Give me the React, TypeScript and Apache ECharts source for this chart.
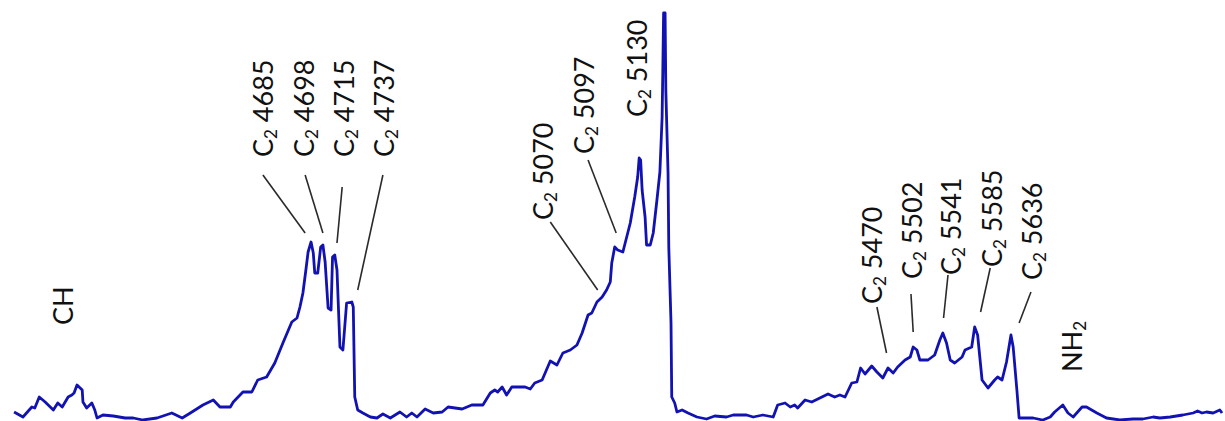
import React, { useEffect, useRef } from "react";
import * as echarts from "echarts";

// Spectrum: wavelength (Å) and relative intensity
const wavelengths = [
  4288, 4300, 4312, 4316, 4322, 4330, 4341, 4347, 4353, 4361, 4366, 4369, 4373, 4380, 4381, 4386, 4393, 4397, 4400, 4408,
  4422, 4438, 4449, 4462, 4481, 4501, 4515, 4526, 4543, 4557, 4566, 4580, 4584, 4597, 4609, 4617, 4629, 4640, 4651, 4663,
  4670, 4674, 4678, 4682, 4685, 4689, 4692, 4694, 4698, 4702, 4705, 4708, 4712, 4716, 4718, 4721, 4724, 4728, 4732, 4737,
  4744, 4746, 4748, 4752, 4759, 4769, 4778,
  4786, 4796, 4809, 4818, 4825, 4832, 4843, 4854, 4866, 4874, 4893, 4906, 4921, 4931, 4937, 4941, 4947, 4953, 4960, 4978,
  4985, 4991, 5001, 5012, 5021, 5029, 5039, 5048, 5055, 5063, 5068, 5075, 5082, 5088, 5093, 5095, 5099, 5103, 5110, 5120,
  5126, 5130, 5132, 5134, 5136, 5140, 5142, 5147, 5151, 5156, 5160, 5163, 5164, 5165, 5167, 5168, 5171, 5172, 5175, 5176,
  5180, 5183, 5190, 5198, 5210,
  5223, 5234, 5250, 5259, 5277, 5286, 5299, 5313, 5319, 5329, 5336, 5342, 5346, 5356, 5365, 5376, 5387, 5396, 5403, 5410,
  5419, 5426, 5431, 5437, 5446, 5453, 5461, 5468, 5475, 5481, 5491, 5498, 5502, 5507, 5511, 5522, 5531, 5538, 5542, 5547,
  5552, 5558, 5568, 5572, 5581, 5585, 5589, 5595, 5603, 5612, 5616, 5622, 5628, 5634, 5637, 5642, 5645, 5649,
  5664, 5677, 5687, 5693, 5704, 5711, 5718, 5730, 5736, 5750, 5763, 5781, 5799, 5812, 5826, 5835, 5849, 5866, 5880, 5886,
  5892, 5898, 5907, 5916, 5919,
];

const intensities = [
  9, 4, 14, 13, 24, 19, 11, 18, 14, 24, 26, 28, 36, 31, 19, 13, 18, 11, 3, 6,
  5, 3, 3, 1, 3, 8, 3, 8, 16, 21, 14, 14, 19, 29, 29, 41, 44, 58, 78, 99,
  103, 114, 128, 151, 169, 179, 168, 148, 148, 174, 176, 159, 113, 111, 164, 166, 151, 74, 71, 118,
  119, 114, 24, 11, 8, 4, 3,
  7, 3, 9, 4, 8, 4, 12, 8, 9, 14, 12, 16, 16, 28, 31, 29, 34, 26, 34, 34,
  32, 38, 41, 60, 56, 68, 71, 76, 88, 106, 108, 119, 124, 131, 139, 158, 174, 171, 169, 198,
  224, 244, 263, 261, 231, 204, 176, 176, 188, 221, 249, 304, 354, 408, 408, 331, 248, 174, 98, 24,
  18, 9, 11, 8, 4,
  2, 5, 4, 6, 6, 4, 6, 4, 16, 18, 14, 16, 13, 21, 19, 23, 27, 24, 26, 24,
  38, 39, 53, 47, 55, 49, 43, 53, 48, 54, 61, 64, 74, 71, 61, 61, 66, 81, 88, 78,
  61, 58, 64, 71, 74, 94, 86, 41, 33, 41, 44, 41, 59, 86, 74, 31, 3, 3,
  3, 1, 4, 9, 16, 8, 4, 14, 14, 8, 3, 1, 2, 2, 4, 3, 4, 6, 8, 10,
  8, 9, 8, 11, 8,
];

// Annotations
const annoSpecies = ["C", "C", "C", "C", "C", "C", "C", "C", "C", "C", "C", "C", "CH", "NH"];
const annoSub = ["2", "2", "2", "2", "2", "2", "2", "2", "2", "2", "2", "2", "", "2"];
const annoNumbers = ["4685", "4698", "4715", "4737", "5070", "5097", "5130", "5470", "5502", "5541", "5585", "5636", "", ""];
// label anchor in data space (wavelength, intensity) – bottom of rotated label
const annoTextAt: [number, number][] = [
  [4624, 264], [4679, 264], [4733, 264], [4787, 264], [5002, 201], [5057, 267], [5129, 304],
  [5446, 117], [5500, 142], [5552, 146], [5608, 154], [5662, 141], [4353, 96], [5716, 49],
];
// leader lines in data space: [λ1, I1, λ2, I2] or null
const annoLines: (number[] | null)[] = [
  [4624, 246, 4681, 188],
  [4681, 246, 4705, 188],
  [4731, 234, 4724, 178],
  [4786, 246, 4752, 131],
  [5012, 199, 5076, 131],
  [5063, 261, 5101, 188],
  null,
  [5453, 114, 5466, 68],
  [5499, 127, 5502, 89],
  [5549, 146, 5543, 103],
  [5606, 153, 5593, 109],
  [5661, 129, 5645, 98],
  null,
  null,
];

const X_MIN = 4269;
const X_MAX = 5923;
const Y_MAX = 421;

const FONT = "Lato, 'Open Sans', sans-serif";
const MAIN_SIZE = 27;
const SUB_SIZE = 17;
const SUB_DROP = 8;

let measureCtx: CanvasRenderingContext2D | null = null;
function textWidth(s: string, size: number): number {
  if (!measureCtx) measureCtx = document.createElement("canvas").getContext("2d");
  if (!measureCtx) return s.length * size * 0.55;
  measureCtx.font = size + "px " + FONT;
  return measureCtx.measureText(s).width;
}

export default function App() {
  const ref = useRef<HTMLDivElement>(null);

  useEffect(() => {
    if (!ref.current) return;
    const chart = echarts.init(ref.current, undefined, { renderer: "svg" });

    const spectrum = wavelengths.map((w, i) => [w, intensities[i]]);
    const annoData = annoTextAt.map((p) => [p[0], p[1]]);
    const mainStyle = { fontSize: MAIN_SIZE, fontFamily: FONT, fill: "#111111", align: "left", verticalAlign: "middle" };
    const subStyle = { fontSize: SUB_SIZE, fontFamily: FONT, fill: "#111111", align: "left", verticalAlign: "middle" };

    chart.setOption({
      animation: false,
      backgroundColor: "#ffffff",
      grid: { left: 0, right: 0, top: 0, bottom: 0 },
      xAxis: { type: "value", min: X_MIN, max: X_MAX, show: false },
      yAxis: { type: "value", min: 0, max: Y_MAX, show: false },
      series: [
        {
          type: "line",
          data: spectrum,
          showSymbol: false,
          symbol: "none",
          clip: false,
          lineStyle: { color: "#1212b2", width: 2.8, join: "round" },
          silent: true,
        },
        {
          type: "custom",
          data: annoData,
          clip: false,
          silent: true,
          encode: { x: 0, y: 1 },
          renderItem: (params: any, api: any) => {
            const i = params.dataIndex;
            const t = api.coord([annoTextAt[i][0], annoTextAt[i][1]]);
            const pieces: any[] = [];
            let cx = 0;
            pieces.push({ type: "text", x: cx, y: 0, style: { ...mainStyle, text: annoSpecies[i] } });
            cx += textWidth(annoSpecies[i], MAIN_SIZE);
            if (annoSub[i]) {
              pieces.push({ type: "text", x: cx, y: SUB_DROP, style: { ...subStyle, text: annoSub[i] } });
              cx += textWidth(annoSub[i], SUB_SIZE);
            }
            if (annoNumbers[i]) {
              const s = " " + annoNumbers[i];
              pieces.push({ type: "text", x: cx, y: 0, style: { ...mainStyle, text: s } });
            }
            const children: any[] = [
              { type: "group", x: t[0], y: t[1], rotation: Math.PI / 2, children: pieces },
            ];
            const ln = annoLines[i];
            if (ln) {
              const a = api.coord([ln[0], ln[1]]);
              const b = api.coord([ln[2], ln[3]]);
              children.push({
                type: "line",
                shape: { x1: a[0], y1: a[1], x2: b[0], y2: b[1] },
                style: { stroke: "#2a2a2a", lineWidth: 1.6 },
              });
            }
            return { type: "group", children };
          },
        },
      ],
    });

    return () => chart.dispose();
  }, []);

  return (
    <div
      ref={ref}
      style={{ position: "absolute", left: 0, top: 0, width: 1225, height: 421 }}
    />
  );
}
